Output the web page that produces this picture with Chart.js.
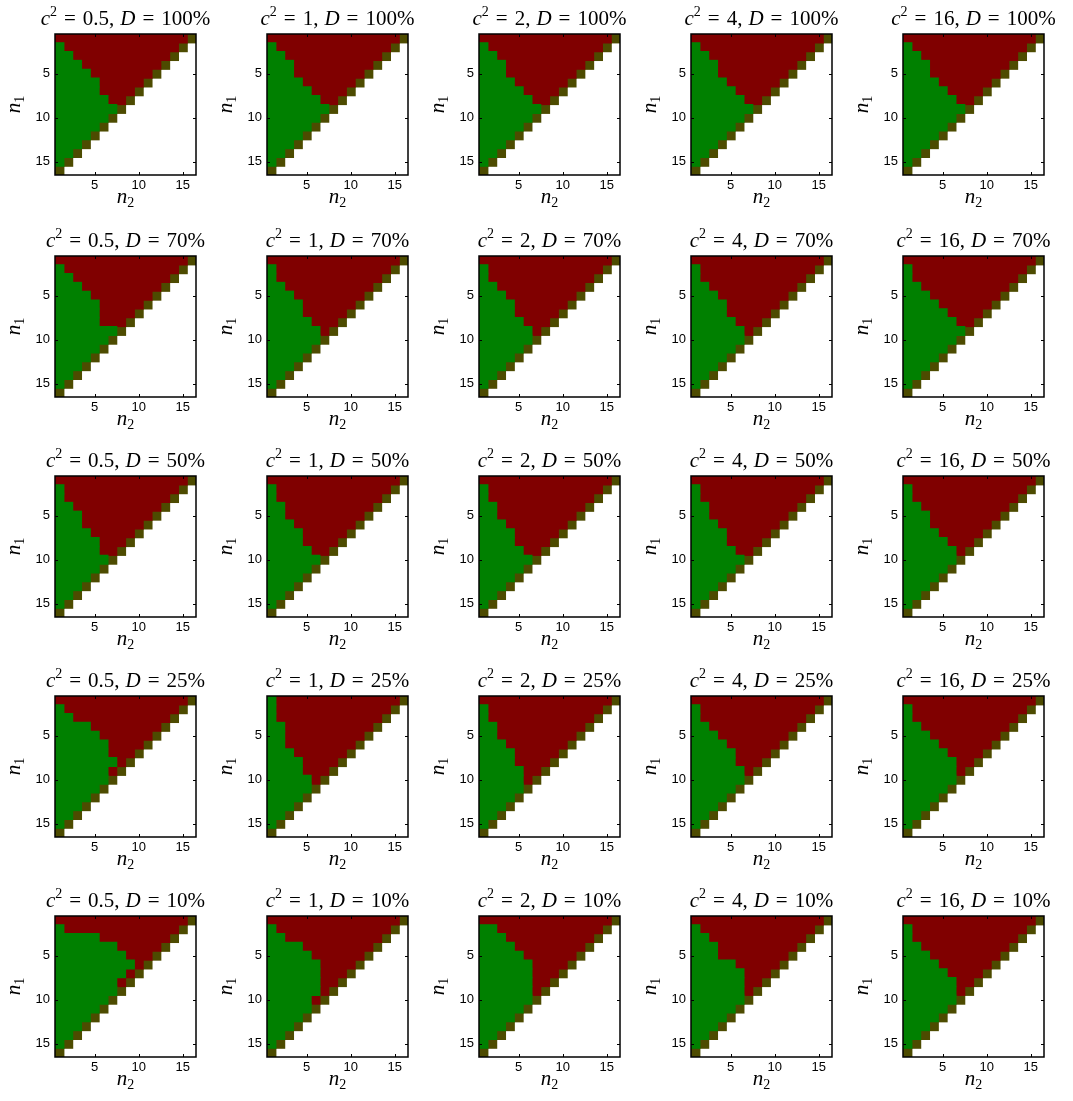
<!DOCTYPE html>
<html>
<head>
<meta charset="utf-8">
<script src="https://cdn.jsdelivr.net/npm/chart.js@4.4.1/dist/chart.umd.min.js"></script>
<style>
  html, body { margin: 0; padding: 0; background: #fff; }
  #grid { position: relative; width: 1073px; height: 1101px; overflow: hidden; }
  #grid canvas { position: absolute; }
</style>
</head>
<body>
<div id="grid"></div>
<script>
const cSquared = ["0.5", "1", "2", "4", "16"];
const dLevels = ["100%", "70%", "50%", "25%", "10%"];
const nValues = [1, 2, 3, 4, 5, 6, 7, 8, 9, 10, 11, 12, 13, 14, 15, 16];
const tickValues = [5, 10, 15];

// number of green cells in each row n1 = 1..16, counted from n2 = 1
// (one row per c^2 value, in the order of cSquared)
const green100 = [
  [0, 1, 2, 3, 4, 5, 5, 6, 7, 6, 5, 4, 3, 2, 1, 0],
  [0, 1, 2, 3, 3, 4, 5, 6, 7, 6, 5, 4, 3, 2, 1, 0],
  [0, 1, 2, 3, 3, 4, 5, 6, 7, 6, 5, 4, 3, 2, 1, 0],
  [0, 1, 2, 3, 3, 4, 5, 6, 7, 6, 5, 4, 3, 2, 1, 0],
  [0, 1, 2, 3, 3, 4, 5, 6, 7, 6, 5, 4, 3, 2, 1, 0],
];
const green70 = [
  [0, 1, 2, 3, 4, 5, 5, 5, 7, 6, 5, 4, 3, 2, 1, 0],
  [0, 1, 1, 2, 3, 4, 4, 5, 6, 6, 5, 4, 3, 2, 1, 0],
  [0, 1, 1, 2, 3, 4, 4, 5, 6, 6, 5, 4, 3, 2, 1, 0],
  [0, 1, 1, 2, 3, 4, 4, 5, 6, 6, 5, 4, 3, 2, 1, 0],
  [0, 1, 1, 2, 3, 4, 5, 6, 7, 6, 5, 4, 3, 2, 1, 0],
];
const green50 = [
  [0, 1, 1, 2, 3, 3, 4, 5, 5, 6, 5, 4, 3, 2, 1, 0],
  [0, 1, 1, 2, 2, 3, 4, 4, 5, 6, 5, 4, 3, 2, 1, 0],
  [0, 1, 1, 2, 2, 3, 4, 4, 5, 6, 5, 4, 3, 2, 1, 0],
  [0, 1, 1, 2, 2, 3, 4, 4, 5, 6, 5, 4, 3, 2, 1, 0],
  [0, 1, 1, 2, 3, 3, 4, 5, 6, 6, 5, 4, 3, 2, 1, 0],
];
const green25 = [
  [0, 1, 2, 4, 5, 6, 6, 7, 6, 6, 5, 4, 3, 2, 1, 0],
  [1, 1, 1, 2, 2, 2, 3, 4, 4, 5, 5, 4, 3, 2, 1, 0],
  [0, 1, 1, 2, 2, 3, 4, 4, 5, 5, 5, 4, 3, 2, 1, 0],
  [0, 1, 1, 2, 3, 4, 5, 5, 6, 6, 5, 4, 3, 2, 1, 0],
  [0, 1, 1, 2, 3, 4, 5, 6, 6, 6, 5, 4, 3, 2, 1, 0],
];
const green10 = [
  [0, 1, 5, 7, 8, 9, 8, 7, 7, 6, 5, 4, 3, 2, 1, 0],
  [0, 1, 2, 4, 5, 6, 6, 6, 6, 5, 5, 4, 3, 2, 1, 0],
  [0, 2, 3, 4, 5, 6, 6, 6, 6, 6, 5, 4, 3, 2, 1, 0],
  [0, 1, 2, 3, 3, 5, 6, 6, 6, 6, 5, 4, 3, 2, 1, 0],
  [0, 1, 1, 2, 3, 4, 5, 6, 6, 6, 5, 4, 3, 2, 1, 0],
];
const greenByD = [green100, green70, green50, green25, green10];

const GREEN = "#008000";
const RED = "#800000";
const DIAG = "#4d4b00";

// where each plot area sits on the page
const plotLeft = [55, 267, 479, 691, 903];
const plotTop = [34, 256, 476, 696, 916];
const PLOT = 141;
const CAN_W = 250, CAN_H = 222, OFF_X = 55, OFF_Y = 34;

const SERIF = '"Liberation Serif", "DejaVu Serif", serif';

function drawRich(ctx, parts, x, y) {
  // parts drawn one after another, centred on x
  let total = 0;
  parts.forEach((p) => {
    ctx.font = p.font;
    p.w = ctx.measureText(p.t).width + (p.gap || 0);
    total += p.w;
  });
  let xx = x - total / 2;
  parts.forEach((p) => {
    ctx.font = p.font;
    ctx.fillText(p.t, xx, y + (p.dy || 0));
    xx += p.w;
  });
}

const panelText = {
  id: "panelText",
  afterDraw(chart, args, opts) {
    const { ctx, chartArea: a, scales } = chart;
    const x = scales.x, y = scales.y;
    ctx.save();

    // inward tick marks on all four sides
    ctx.strokeStyle = "#000";
    ctx.lineWidth = 1;
    ctx.beginPath();
    tickValues.forEach((v) => {
      const px = Math.round(x.getPixelForValue(v)) + 0.5;
      const py = Math.round(y.getPixelForValue(v)) + 0.5;
      ctx.moveTo(px, a.bottom); ctx.lineTo(px, a.bottom - 3);
      ctx.moveTo(px, a.top); ctx.lineTo(px, a.top + 3);
      ctx.moveTo(a.left, py); ctx.lineTo(a.left + 3, py);
      ctx.moveTo(a.right, py); ctx.lineTo(a.right - 3, py);
    });
    ctx.stroke();

    // box
    ctx.lineWidth = 1.5;
    ctx.strokeRect(a.left, a.top, a.right - a.left, a.bottom - a.top);

    ctx.fillStyle = "#000";
    ctx.textBaseline = "alphabetic";
    ctx.textAlign = "left";
    const cx = (a.left + a.right) / 2;
    const big = "21px " + SERIF, ital = "italic 21px " + SERIF, small = "14px " + SERIF;

    // title
    drawRich(ctx, [
      { t: "c", font: ital },
      { t: "2", font: small, dy: -9, gap: 7 },
      { t: "=", font: big, gap: 7 },
      { t: opts.c + ",", font: big, gap: 6 },
      { t: "D", font: ital, gap: 7 },
      { t: "=", font: big, gap: 7 },
      { t: opts.d, font: big },
    ], cx, a.top - 9);

    // x label
    drawRich(ctx, [
      { t: "n", font: ital },
      { t: "2", font: small, dy: 4 },
    ], cx, a.bottom + 28);

    // y label, rotated
    ctx.translate(a.left - 35, (a.top + a.bottom) / 2);
    ctx.rotate(-Math.PI / 2);
    drawRich(ctx, [
      { t: "n", font: ital },
      { t: "1", font: small, dy: 4 },
    ], 0, 0);

    ctx.restore();
  },
};

function buildPanel(row, col) {
  const counts = greenByD[row][col];
  const greenBars = [], redBars = [], diagBars = [];
  nValues.forEach((n1, i) => {
    const diag = nValues.length + 1 - n1;
    const g = Math.min(counts[i], diag - 1);
    if (g > 0) greenBars.push({ y: n1, x: [0.5, g + 0.5] });
    if (g < diag - 1) redBars.push({ y: n1, x: [g + 0.5, diag - 0.5] });
    diagBars.push({ y: n1, x: [diag - 0.5, diag + 0.5] });
  });

  const canvas = document.createElement("canvas");
  canvas.width = CAN_W;
  canvas.height = CAN_H;
  canvas.style.width = CAN_W + "px";
  canvas.style.height = CAN_H + "px";
  canvas.style.left = (plotLeft[col] - OFF_X) + "px";
  canvas.style.top = (plotTop[row] - OFF_Y) + "px";
  document.getElementById("grid").appendChild(canvas);

  const tickFont = { family: '"Liberation Sans", Arial, sans-serif', size: 13 };

  new Chart(canvas, {
    type: "bar",
    data: {
      datasets: [
        { data: greenBars, backgroundColor: GREEN },
        { data: redBars, backgroundColor: RED },
        { data: diagBars, backgroundColor: DIAG },
      ],
    },
    options: {
      indexAxis: "y",
      responsive: false,
      animation: false,
      events: [],
      devicePixelRatio: 1,
      layout: { padding: { left: 0, top: OFF_Y, right: CAN_W - OFF_X - PLOT, bottom: 0 } },
      datasets: {
        bar: {
          grouped: false,
          barPercentage: 1,
          categoryPercentage: 1,
          borderWidth: 0,
          inflateAmount: 0.6,
        },
      },
      plugins: {
        legend: { display: false },
        tooltip: { enabled: false },
        panelText: { c: cSquared[col], d: dLevels[row] },
      },
      scales: {
        x: {
          type: "linear",
          min: 0.5,
          max: 16.5,
          offset: false,
          grid: { display: false, drawTicks: false },
          border: { display: false },
          ticks: { color: "#000", font: tickFont, padding: 3, maxRotation: 0, autoSkip: false },
          afterBuildTicks: (scale) => { scale.ticks = tickValues.map((v) => ({ value: v })); },
          afterFit: (scale) => { scale.height = CAN_H - OFF_Y - PLOT; },
        },
        y: {
          type: "linear",
          reverse: true,
          min: 0.5,
          max: 16.5,
          offset: false,
          grid: { display: false, drawTicks: false },
          border: { display: false },
          ticks: { color: "#000", font: tickFont, padding: 5, autoSkip: false },
          afterBuildTicks: (scale) => { scale.ticks = tickValues.map((v) => ({ value: v })); },
          afterFit: (scale) => { scale.width = OFF_X; },
        },
      },
    },
    plugins: [panelText],
  });
}

dLevels.forEach((d, row) => {
  cSquared.forEach((c, col) => buildPanel(row, col));
});
</script>
</body>
</html>
